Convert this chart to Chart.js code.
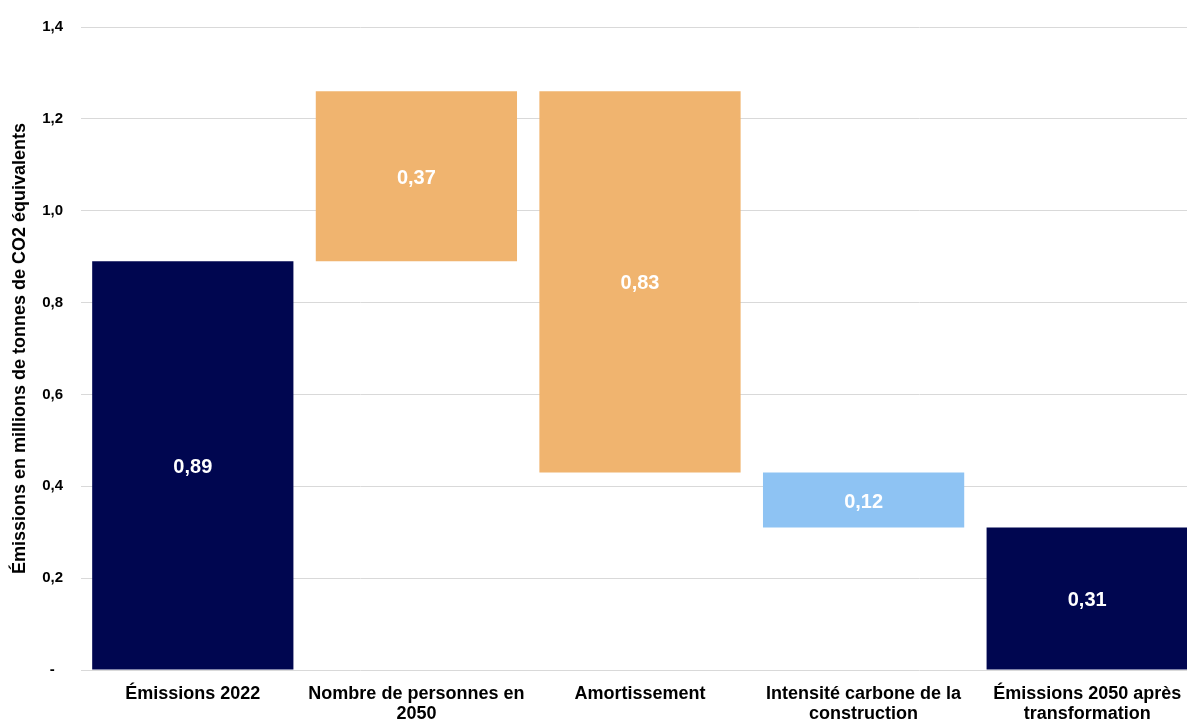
<!DOCTYPE html>
<html>
<head>
<meta charset="utf-8">
<script src="https://cdn.jsdelivr.net/npm/chart.js@4"></script>
<style>
  html, body { margin: 0; padding: 0; background: #fff; overflow: hidden; }
</style>
</head>
<body>
<canvas id="grafico" width="1200" height="720"></canvas>
<script>
const categorias = [
    "Émissions 2022",
    ["Nombre de personnes en", "2050"],
    "Amortissement",
    ["Intensité carbone de la", "construction"],
    ["Émissions 2050 après", "transformation"],
];
const basBarres = [0, 0.89, 0.43, 0.31, 0];
const hautBarres = [0.89, 1.26, 1.26, 0.43, 0.31];
const valeurs = [0.89, 0.37, 0.83, 0.12, 0.31];
const couleurs = ["#000650", "#F0B46F", "#F0B46F", "#8EC3F3", "#000650"];
const ticksY = [0, 0.2, 0.4, 0.6, 0.8, 1.0, 1.2, 1.4];

const FONT = "'Liberation Sans', Arial, sans-serif";

// valeurs écrites au milieu de chaque barre
const etiquettes = {
    id: "etiquettes",
    afterDatasetsDraw(chart) {
        const ctx = chart.ctx;
        const meta = chart.getDatasetMeta(0);
        ctx.save();
        ctx.fillStyle = "#fff";
        ctx.font = `bold 20px ${FONT}`;
        ctx.textAlign = "center";
        ctx.textBaseline = "middle";
        meta.data.forEach((bar, i) => {
            const y = (bar.y + bar.base) / 2 + 2;
            ctx.fillText(valeurs[i].toFixed(2).replace(".", ","), bar.x, y);
        });
        ctx.restore();
    },
};

new Chart(document.getElementById("grafico").getContext("2d"), {
    type: "bar",
    data: {
        labels: categorias,
        datasets: [{
            data: basBarres.map((b, i) => [b, hautBarres[i]]),
            backgroundColor: couleurs,
            borderWidth: 0,
            barPercentage: 0.9,
            categoryPercentage: 1,
        }],
    },
    options: {
        responsive: false,
        animation: false,
        layout: { padding: { top: 27, right: 1, left: 0, bottom: 0 } },
        plugins: {
            legend: { display: false },
            tooltip: { enabled: false },
        },
        scales: {
            x: {
                grid: { display: false, drawTicks: false },
                border: { display: false },
                ticks: {
                    color: "#000",
                    font: { family: FONT, size: 18, weight: "bold", lineHeight: 1.1 },
                    padding: 14,
                    maxRotation: 0,
                    autoSkip: false,
                },
                afterFit(scale) { scale.height = 50; },
            },
            y: {
                min: 0,
                max: 1.4,
                afterBuildTicks(scale) {
                    scale.ticks = ticksY.map(v => ({ value: v }));
                },
                grid: { color: "#d9d9d9", lineWidth: 1, drawTicks: false },
                border: { display: false },
                ticks: {
                    color: "#000",
                    font: { family: FONT, size: 15, weight: "bold" },
                    padding: 18,
                    callback: v => v === 0 ? "-  " : v.toFixed(1).replace(".", ","),
                },
                title: {
                    display: true,
                    text: "Émissions en millions de tonnes de CO2 équivalents",
                    color: "#000",
                    font: { family: FONT, size: 18, weight: "bold" },
                    padding: { top: 9, bottom: 0 },
                },
                afterFit(scale) { scale.width = 81; },
            },
        },
    },
    plugins: [etiquettes],
});
</script>
</body>
</html>
